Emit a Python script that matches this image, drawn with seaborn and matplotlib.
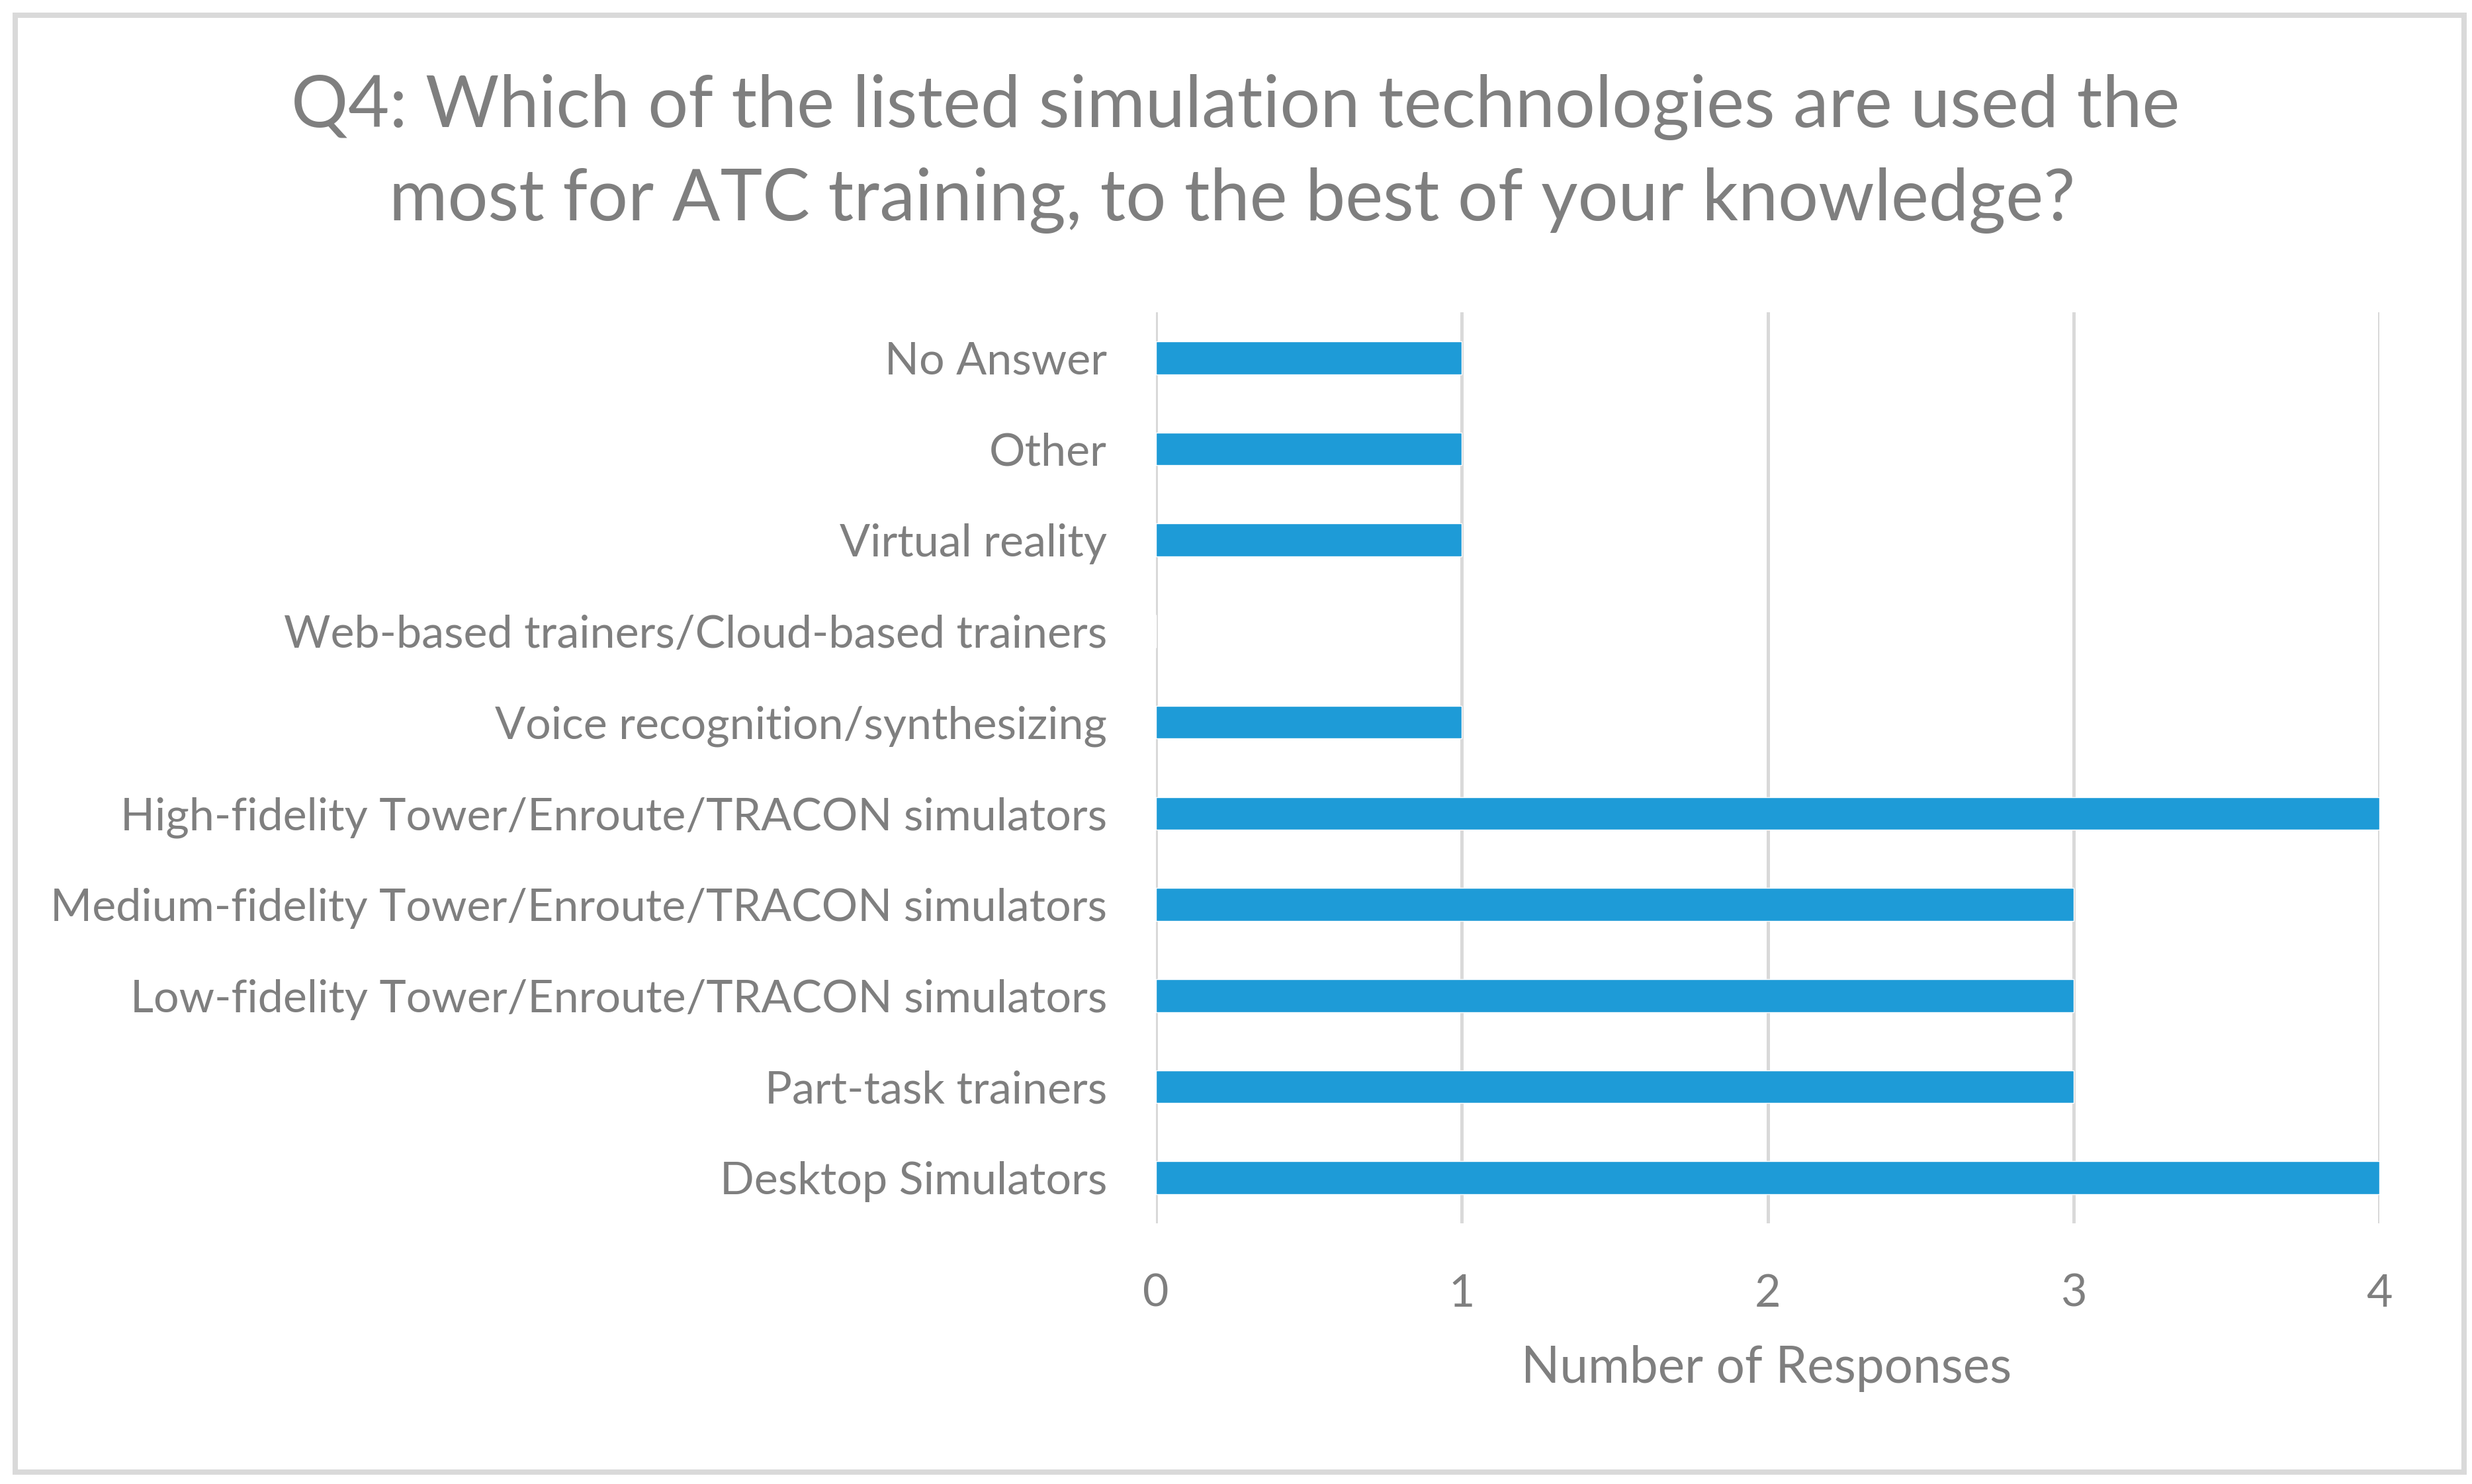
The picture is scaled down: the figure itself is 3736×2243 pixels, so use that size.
import matplotlib
matplotlib.use("Agg")
import matplotlib.pyplot as plt
import seaborn as sns
import pandas as pd
from matplotlib.patches import Rectangle

# ---- data ----
categories = [
    "No Answer",
    "Other",
    "Virtual reality",
    "Web-based trainers/Cloud-based trainers",
    "Voice recognition/synthesizing",
    "High-fidelity Tower/Enroute/TRACON simulators",
    "Medium-fidelity Tower/Enroute/TRACON simulators",
    "Low-fidelity Tower/Enroute/TRACON simulators",
    "Part-task trainers",
    "Desktop Simulators",
]
responses = [1, 1, 1, 0, 1, 4, 3, 3, 3, 4]
x_ticks = [0, 1, 2, 3, 4]
title_lines = [
    "Q4: Which of the listed simulation technologies are used the",
    "most for ATC training, to the best of your knowledge?",
]
x_label = "Number of Responses"

df = pd.DataFrame({"category": categories, "responses": responses})

# ---- style ----
sns.set_theme(style="white")
FONT = ["Lato", "DejaVu Sans"]
plt.rcParams["font.family"] = FONT
TXT = "#7f7f7f"
GRID = "#d9d9d9"
BAR = "#1e9bd7"

W, H, DPI = 3736, 2243, 100
fig = plt.figure(figsize=(W / DPI, H / DPI), dpi=DPI)
fig.patch.set_facecolor("white")

ax_l, ax_r, ax_t, ax_b = 1747, 3596, 472, 1849
ax = fig.add_axes([ax_l / W, 1 - ax_b / H, (ax_r - ax_l) / W, (ax_b - ax_t) / H])

sns.barplot(data=df, x="responses", y="category", order=categories,
            orient="h", color=BAR, saturation=1, width=0.36, ax=ax, zorder=3)

ax.set_xlim(0, 4)
ax.set_xticks(x_ticks)
ax.set_xticklabels([str(t) for t in x_ticks])
ax.grid(axis="x", color=GRID, linewidth=3.6, zorder=0)
ax.grid(axis="y", visible=False)
ax.set_axisbelow(True)
for s in ax.spines.values():
    s.set_visible(False)
ax.set_ylabel("")
ax.tick_params(axis="both", length=0, colors=TXT)

fig.canvas.draw()
renderer = fig.canvas.get_renderer()


def fit_size(text, target_px, base=40):
    t = fig.text(0, 0, text, fontsize=base, family=FONT)
    w = t.get_window_extent(renderer).width
    t.remove()
    return base * target_px / w

# y tick labels
ysize = fit_size(categories[6], 1596)
for lab in ax.get_yticklabels():
    lab.set_fontsize(ysize)
    lab.set_color(TXT)
ax.tick_params(axis="y", pad=(ax_l - 1673) / 1.389)

# x tick labels
for lab in ax.get_xticklabels():
    lab.set_fontsize(ysize)
    lab.set_color(TXT)
ax.tick_params(axis="x", pad=(1949 - 24 - ax_b) / 1.389)

# x label
xlsize = fit_size(x_label, 741)
ax.set_xlabel(x_label, fontsize=xlsize, color=TXT, va="center")
ax.xaxis.set_label_coords(2670 / W, 1 - 2068 / H, transform=fig.transFigure)

# title
tsize = fit_size(title_lines[0], 2852)
fig.text(1867 / W, 1 - 162 / H, title_lines[0], fontsize=tsize, color=TXT,
         ha="center", va="center", family=FONT)
fig.text(1862 / W, 1 - 303 / H, title_lines[1], fontsize=tsize, color=TXT,
         ha="center", va="center", family=FONT)

# outer border
fig.patches.append(Rectangle((23 / W, 1 - 2225 / H), (3724 - 23) / W, (2225 - 23) / H,
                             transform=fig.transFigure, fill=False,
                             edgecolor=GRID, linewidth=8 / 1.389, zorder=0))

fig.savefig("out.png", dpi=DPI, facecolor="white")
